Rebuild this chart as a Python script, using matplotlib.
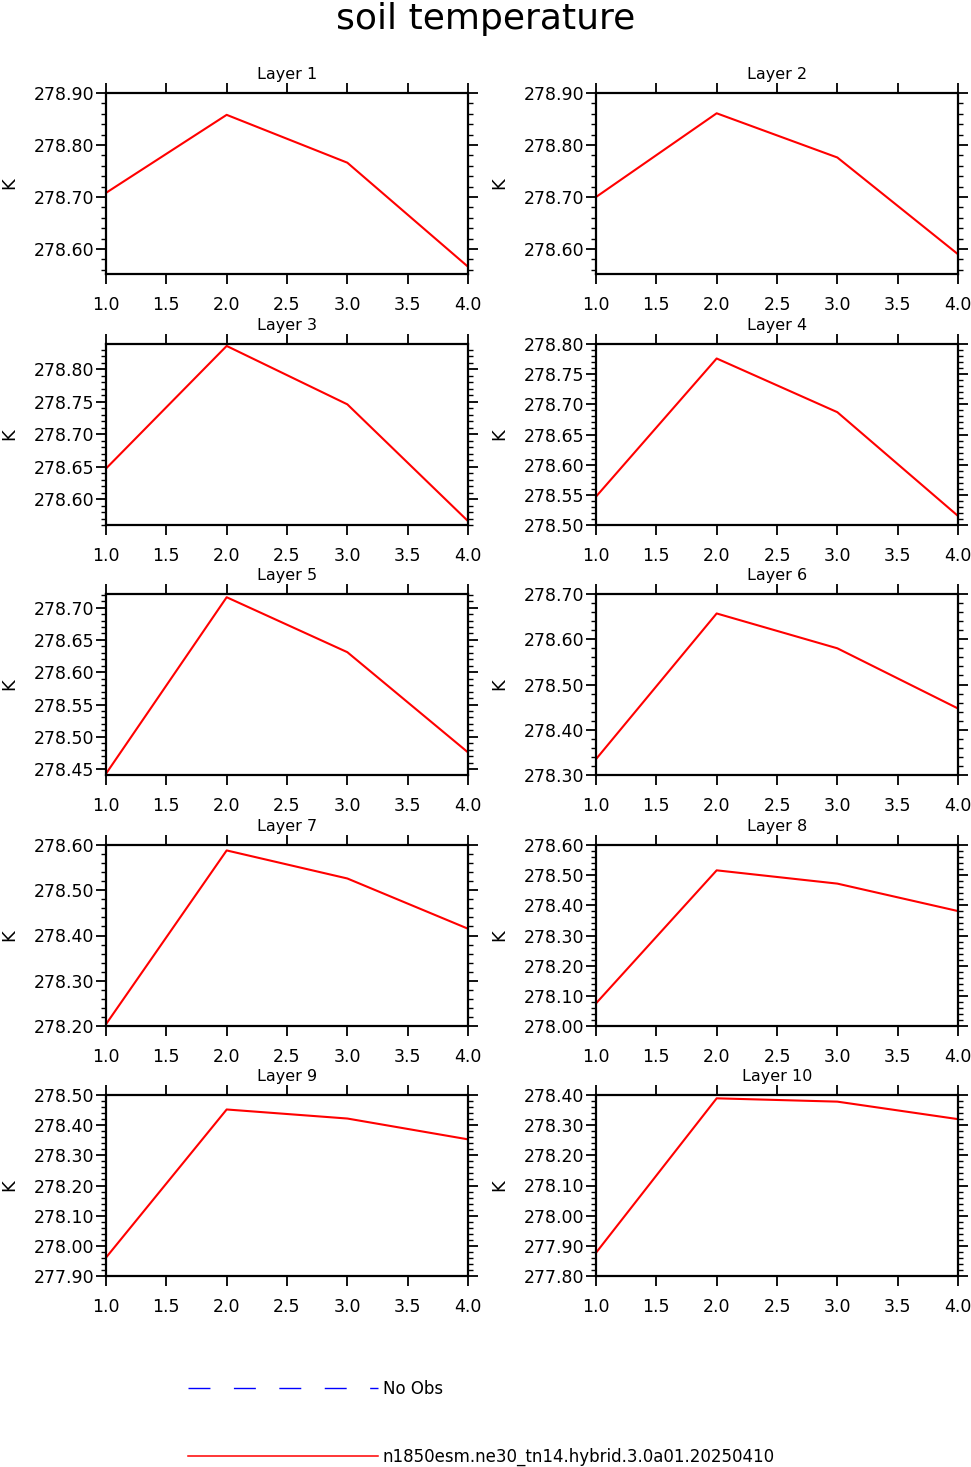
import numpy as np
import matplotlib
matplotlib.use('Agg')
import matplotlib.pyplot as plt
from matplotlib.ticker import MultipleLocator, FormatStrFormatter
from matplotlib.lines import Line2D

plt.rcParams['font.family'] = ['DejaVu Sans']

# x axis (case number / year index)
xval = [1.0, 2.0, 3.0, 4.0]

# soil temperature per layer, K
layer1 = [278.708, 278.858, 278.766, 278.566]
layer2 = [278.700, 278.861, 278.776, 278.590]
layer3 = [278.647, 278.836, 278.746, 278.566]
layer4 = [278.547, 278.776, 278.687, 278.515]
layer5 = [278.443, 278.716, 278.631, 278.476]
layer6 = [278.335, 278.657, 278.580, 278.447]
layer7 = [278.204, 278.588, 278.526, 278.415]
layer8 = [278.075, 278.516, 278.472, 278.381]
layer9 = [277.961, 278.452, 278.422, 278.353]
layer10 = [277.877, 278.389, 278.378, 278.320]

titles = ['Layer %d' % (i + 1) for i in range(10)]
y_lo = [278.552, 278.552, 278.560, 278.50, 278.441, 278.30, 278.20, 278.00, 277.90, 277.80]
y_hi = [278.90, 278.90, 278.839, 278.80, 278.721, 278.70, 278.60, 278.60, 278.50, 278.40]
y_step = [0.1, 0.1, 0.05, 0.05, 0.05, 0.1, 0.1, 0.1, 0.1, 0.1]

case_name = 'n1850esm.ne30_tn14.hybrid.3.0a01.20250410'

layers = [layer1, layer2, layer3, layer4, layer5,
          layer6, layer7, layer8, layer9, layer10]

W, H = 971, 1467
fig = plt.figure(figsize=(W / 100, H / 100), dpi=100)

lefts = [106, 596]
tops = [93, 344, 594, 845, 1095]
aw, ah = 362, 181

for i, vals in enumerate(layers):
    r, c = i // 2, i % 2
    ax = fig.add_axes([lefts[c] / W, 1 - (tops[r] + ah) / H, aw / W, ah / H])
    ax.plot(xval, vals, color='#ff0000', lw=1.5)
    ax.set_xlim(1.0, 4.0)
    ax.set_ylim(y_lo[i], y_hi[i])
    ax.xaxis.set_major_locator(MultipleLocator(0.5))
    ax.xaxis.set_major_formatter(FormatStrFormatter('%.1f'))
    ax.yaxis.set_major_locator(MultipleLocator(y_step[i]))
    ax.yaxis.set_minor_locator(MultipleLocator(y_step[i] / 5))
    ax.yaxis.set_major_formatter(FormatStrFormatter('%.2f'))
    ax.tick_params(which='both', direction='out', top=True, right=True,
                   labelsize=12.5)
    ax.tick_params(axis='x', which='major', length=7, width=1.3, pad=9)
    ax.tick_params(axis='y', which='major', length=7, width=1.3, pad=1.5)
    ax.tick_params(axis='y', which='minor', length=3.5, width=1.0)
    for s in ax.spines.values():
        s.set_linewidth(1.6)
    ax.set_title(titles[i], fontsize=11.5, pad=10)
    ax.set_ylabel('K', fontsize=13)
    ax.yaxis.set_label_coords(-0.243, 0.5)

fig.text(0.5, 1 - 19 / H, 'soil temperature', ha='center', va='center',
         fontsize=26)

handles = [Line2D([], [], color='#0000ff', lw=1.0, ls=(0, (15.8, 16.9))),
           Line2D([], [], color='#ff0000', lw=1.1)]
fig.legend(handles, ['No Obs', case_name], loc='center left',
           bbox_to_anchor=(188 / W, 1 - 1423 / H), frameon=False,
           fontsize=12, handlelength=11.4, handletextpad=0.3,
           labelspacing=2.95, borderpad=0, borderaxespad=0)

fig.savefig('out.png', dpi=100)
